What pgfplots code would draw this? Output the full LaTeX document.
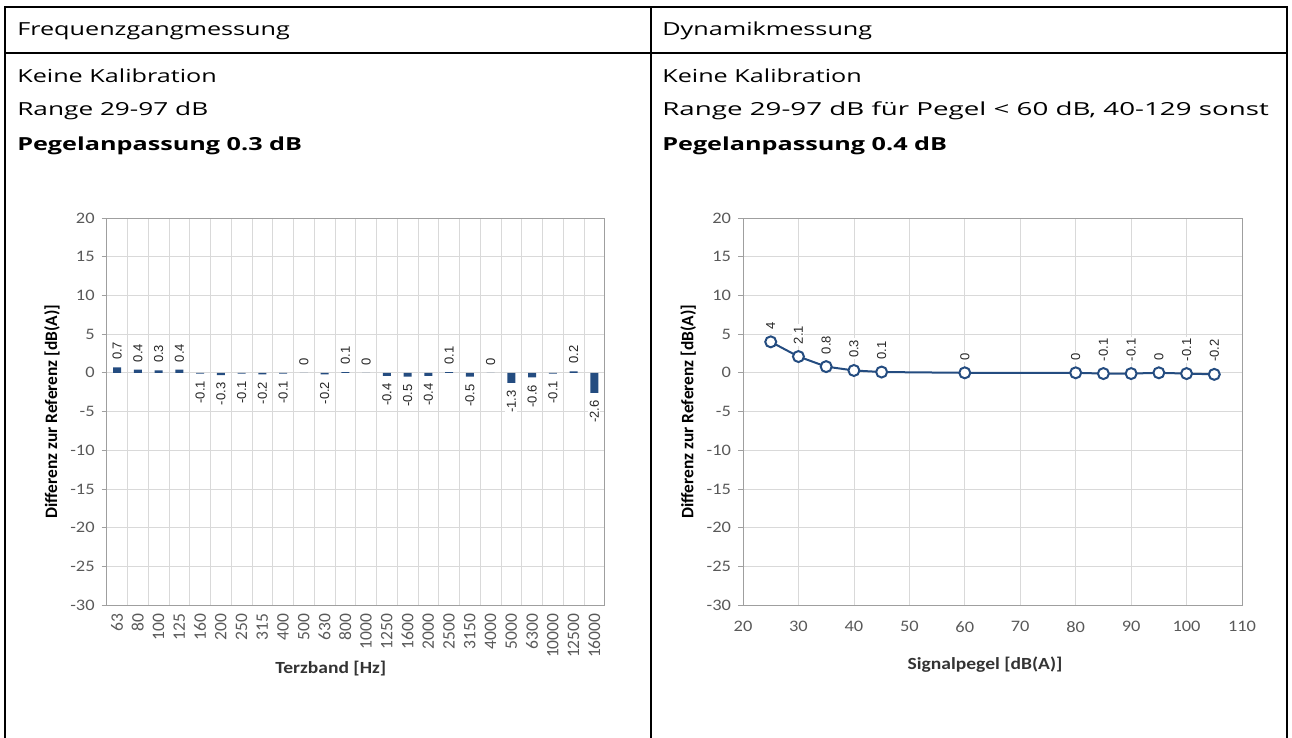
\documentclass[border=0pt]{standalone}
\usepackage{pgfplots}
\pgfplotsset{compat=1.18}
\usepackage{pgfplotstable}
\usepackage{fontspec}
\setmainfont{Open Sans}
\newfontfamily\calfont{Carlito}
\newfontfamily\arialfont{Liberation Sans}
\definecolor{navy}{RGB}{36,76,128}
\definecolor{gridc}{RGB}{217,217,217}
\definecolor{tickc}{RGB}{89,89,89}

% Frequenzgang: Terzband-Index, Differenz
\pgfplotstableread{
x  v
0  0.7
1  0.4
2  0.3
3  0.4
4  -0.1
5  -0.3
6  -0.1
7  -0.2
8  -0.1
9  0
10 -0.2
11 0.1
12 0
13 -0.4
14 -0.5
15 -0.4
16 0.1
17 -0.5
18 0
19 -1.3
20 -0.6
21 -0.1
22 0.2
23 -2.6
}\terz

% Dynamik: Signalpegel, Differenz
\pgfplotstableread{
x   v
25  4
30  2.1
35  0.8
40  0.3
45  0.1
60  0
80  0
85  -0.1
90  -0.1
95  0
100 -0.1
105 -0.2
}\dyn

\pgfplotsset{
  diffchart/.style={
    scale only axis, anchor=south west,
    height=387pt,
    ymin=-30, ymax=20, ytick={-30,-25,...,20},
    ymajorgrids, grid style={gridc, line width=0.8pt},
    axis line style={gray!75, line width=0.8pt},
    ytick pos=left, tick align=outside,
    ytick style={gray!75, line width=0.8pt}, major tick length=5pt,
    yticklabel style={font=\calfont\fontsize{16}{16}\selectfont, text=tickc, xshift=-3pt, xscale=1.15},
    xticklabel style={font=\calfont\fontsize{16}{16}\selectfont, text=tickc},
    /pgf/number format/assume math mode=true,
    ylabel={Differenz zur Referenz [dB(A)]},
    ylabel style={font=\calfont\bfseries\fontsize{17.4}{17.4}\selectfont,
      at={(axis description cs:-0.11,0.5)}, anchor=center},
    xlabel style={font=\calfont\bfseries\fontsize{17}{17}\selectfont, text=black!80, xscale=1.15},
    nodes near coords style={font=\arialfont\fontsize{13}{13}\selectfont,
      text=black!85, fill=white, inner sep=1.5pt, rotate=90},
  },
  labelsonly/.style={only marks, mark=text, text mark={}, nodes near coords},
}

\begin{document}
\begin{tikzpicture}
\path[use as bounding box] (0,0) rectangle (1292pt,-738pt);

% Tabelle
\draw[line width=1.6pt] (5pt,-738pt) -- (5pt,-7pt) -- (1287pt,-7pt) -- (1287pt,-738pt);
\draw[line width=1.6pt] (651pt,-7pt) -- (651pt,-738pt);
\draw[line width=1.4pt] (5pt,-53pt) -- (1287pt,-53pt);

\begin{scope}[every node/.style={anchor=base west, inner sep=0pt, xscale=1.4,
    font=\fontsize{18}{18}\selectfont}]
\node at (17pt,-36pt) {Frequenzgangmessung};
\node at (17pt,-83pt) {Keine Kalibration};
\node[xscale=1.04] at (17pt,-116pt) {Range 29-97 dB};
\node[font=\fontsize{18}{18}\selectfont\bfseries] at (17pt,-151pt) {Pegelanpassung 0.3 dB};
\node at (662pt,-36pt) {Dynamikmessung};
\node at (662pt,-83pt) {Keine Kalibration};
\node[xscale=1.1] at (662pt,-116pt) {Range 29-97 dB für Pegel < 60 dB, 40-129 sonst};
\node[font=\fontsize{18}{18}\selectfont\bfseries] at (662pt,-151pt) {Pegelanpassung 0.4 dB};
\end{scope}

% Frequenzgang
\begin{axis}[diffchart,
    at={(106.7pt,-605pt)}, width=498pt,
    xmin=-0.5, xmax=23.5,
    xtick={0,...,23},
    xticklabels={63,80,100,125,160,200,250,315,400,500,630,800,1000,1250,1600,2000,2500,3150,4000,5000,6300,10000,12500,16000},
    xticklabel style={rotate=90, anchor=east, font=\calfont\fontsize{17.5}{17.5}\selectfont},
    xtick style={draw=none},
    minor xtick={-0.5,0.5,...,23.5},
    xminorgrids, minor grid style={gridc, line width=0.8pt},
    minor x tick style={draw=none},
    xlabel={Terzband [Hz]},
    xlabel style={at={(axis description cs:0.45,-0.163)}, anchor=center},
  ]
  \addplot[ybar, bar width=8pt, fill=navy, draw=none] table[x=x, y=v] {\terz};
  % Beschriftungen: oberhalb (>= 0) und unterhalb (< 0)
  \addplot[labelsonly, restrict y to domain=0:100,
    nodes near coords style={anchor=west, outer sep=6pt}] table[x=x, y=v] {\terz};
  \addplot[labelsonly, restrict y to domain=-100:-0.01,
    nodes near coords style={anchor=east, outer sep=6pt}] table[x=x, y=v] {\terz};
\end{axis}

% Dynamik
\begin{axis}[diffchart,
    at={(743pt,-605pt)}, width=499pt,
    xmin=20, xmax=110, xtick={20,30,...,110},
    xmajorgrids,
    xtick style={draw=none},
    xticklabel style={yshift=-8pt, xscale=1.15},
    xlabel={Signalpegel [dB(A)]},
    xlabel style={at={(axis description cs:0.485,-0.155)}, anchor=center},
  ]
  \addplot[navy, line width=2pt, mark=*, mark size=5.5pt,
    mark options={fill=white, draw=navy, line width=2pt},
    nodes near coords,
    nodes near coords style={anchor=west, outer sep=11pt}]
    table[x=x, y=v] {\dyn};
\end{axis}
\end{tikzpicture}
\end{document}
